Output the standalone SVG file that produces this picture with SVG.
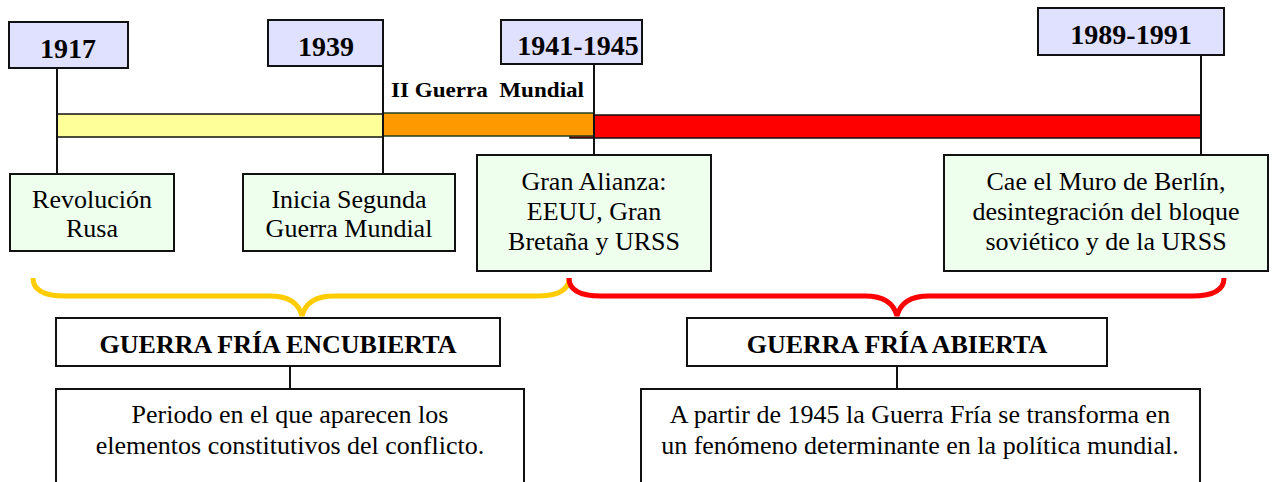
<svg xmlns="http://www.w3.org/2000/svg" width="1276" height="482" viewBox="0 0 1276 482">
<style>
text{font-family:"Liberation Serif","Times New Roman",serif;fill:#000}
.yr{fill:#E0E0FF;stroke:#111;stroke-width:2}
.yt{font-size:28px;font-weight:bold;text-anchor:middle}
.ev{fill:#EEFFEE;stroke:#111;stroke-width:2}
.et{font-size:26px;text-anchor:middle}
.bx{fill:#FFFFFF;stroke:#111;stroke-width:2}
.bt{font-size:26px;font-weight:bold;text-anchor:middle}
.ln{stroke:#111;stroke-width:2;fill:none}
</style>
<rect width="1276" height="482" fill="#fff"/>
<g id="timeline">
<rect x="570" y="115" width="631" height="23" fill="#FF0000" stroke="#111" stroke-width="1.5"/>
<rect x="57" y="114" width="326" height="23" fill="#FFFF99" stroke="#111" stroke-width="1.5"/>
<rect x="383" y="113" width="211" height="23" fill="#FF9900" stroke="#1F4020" stroke-width="1.5"/>
<text x="391" y="97" xml:space="preserve" textLength="193" lengthAdjust="spacingAndGlyphs" style="font-size:22px;font-weight:bold;white-space:pre">II Guerra  Mundial</text>
</g>
<g id="connectors">
<line class="ln" x1="57" y1="68" x2="57" y2="174"/>
<line class="ln" x1="383" y1="66" x2="383" y2="174"/>
<line class="ln" x1="594" y1="64" x2="594" y2="155"/>
<line class="ln" x1="1201" y1="55" x2="1201" y2="155"/>
<line class="ln" x1="290" y1="366" x2="290" y2="389"/>
<line class="ln" x1="897" y1="366" x2="897" y2="389"/>
<path d="M33,278 Q33,296 65,296 L270,296 Q297,296 302,316 Q307,296 334,296 L537,296 Q569,296 569,278" fill="none" stroke="#FFCC00" stroke-width="5"/>
<path d="M569,278 Q569,296 601,296 L865,296 Q892,296 897,316 Q902,296 929,296 L1192,296 Q1224,296 1224,278" fill="none" stroke="#FF0000" stroke-width="5"/>
</g>
<g id="y1917"><rect class="yr" x="9" y="22" width="119" height="46"/><text class="yt" x="68" y="58">1917</text></g>
<g id="y1939"><rect class="yr" x="268" y="20" width="115" height="46"/><text class="yt" x="326" y="56">1939</text></g>
<g id="y1941"><rect class="yr" x="501" y="20" width="141" height="44"/><text class="yt" x="578" y="55">1941-1945</text></g>
<g id="y1989"><rect class="yr" x="1038" y="8" width="186" height="47"/><text class="yt" x="1131" y="44">1989-1991</text></g>
<g id="e1917"><rect class="ev" x="10" y="174" width="164" height="77"/><text class="et" x="92" y="208">Revolución</text><text class="et" x="92" y="237">Rusa</text></g>
<g id="e1939"><rect class="ev" x="243" y="174" width="212" height="77"/><text class="et" x="349" y="208">Inicia Segunda</text><text class="et" x="349" y="237">Guerra Mundial</text></g>
<g id="e1941"><rect class="ev" x="477" y="155" width="234" height="116"/><text class="et" x="594" y="190">Gran Alianza:</text><text class="et" x="594" y="220">EEUU, Gran</text><text class="et" x="594" y="250">Bretaña y URSS</text></g>
<g id="e1989"><rect class="ev" x="944" y="155" width="324" height="116"/><text class="et" x="1106" y="190">Cae el Muro de Berlín,</text><text class="et" x="1106" y="220">desintegración del bloque</text><text class="et" x="1106" y="250">soviético y de la URSS</text></g>
<g id="encubierta"><rect class="bx" x="56" y="318" width="444" height="48"/><text class="bt" x="278" y="353">GUERRA FRÍA ENCUBIERTA</text></g>
<g id="abierta"><rect class="bx" x="687" y="318" width="420" height="48"/><text class="bt" x="897" y="353">GUERRA FRÍA ABIERTA</text></g>
<g id="periodo"><rect class="bx" x="56" y="389" width="468" height="110"/><text class="et" x="290" y="423">Periodo en el que aparecen los</text><text class="et" x="290" y="454">elementos constitutivos del conflicto.</text></g>
<g id="partir"><rect class="bx" x="641" y="389" width="559" height="110"/><text class="et" x="920" y="423">A partir de 1945 la Guerra Fría se transforma en</text><text class="et" x="920" y="454">un fenómeno determinante en la política mundial.</text></g>
</svg>
